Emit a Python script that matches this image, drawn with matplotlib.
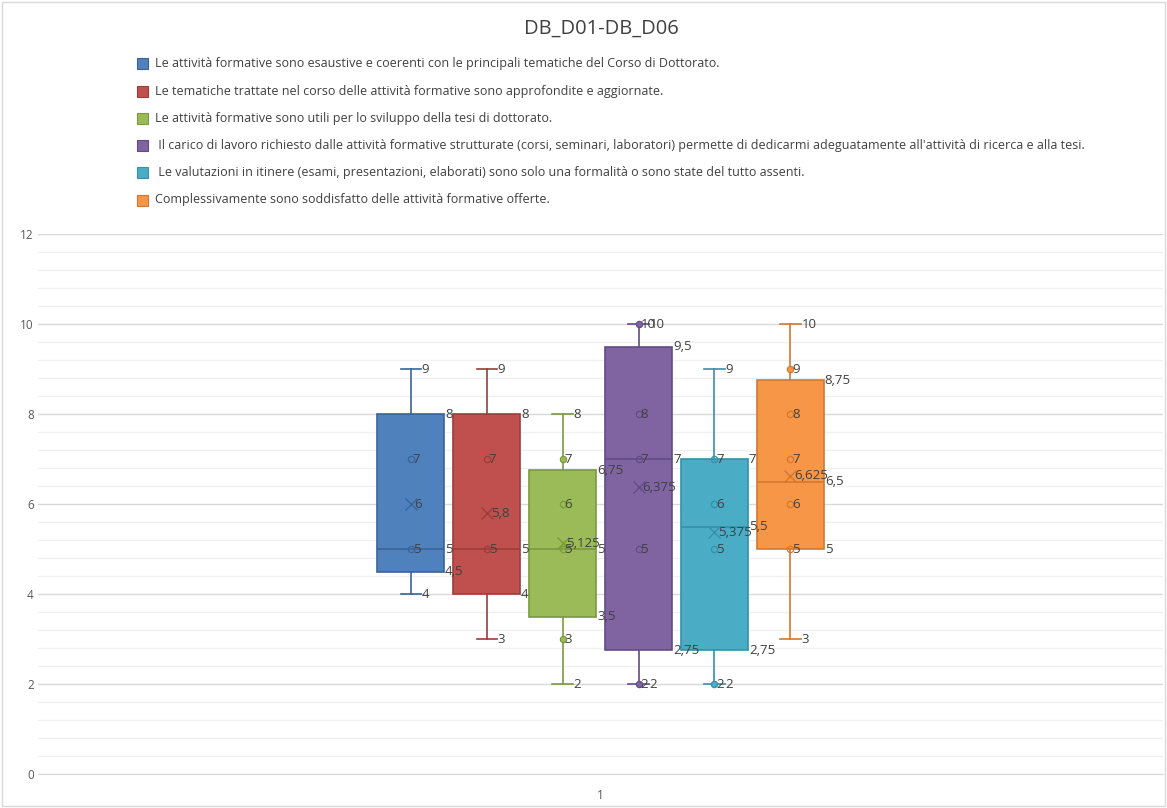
import numpy as np
import matplotlib
matplotlib.use("Agg")
import matplotlib.pyplot as plt
from matplotlib.patches import Rectangle

plt.rcParams['font.family'] = ['Open Sans', 'DejaVu Sans']

# series names (legend)
series = [
    "Le attività formative sono esaustive e coerenti con le principali tematiche del Corso di Dottorato.",
    "Le tematiche trattate nel corso delle attività formative sono approfondite e aggiornate.",
    "Le attività formative sono utili per lo sviluppo della tesi di dottorato.",
    " Il carico di lavoro richiesto dalle attività formative strutturate (corsi, seminari, laboratori) permette di dedicarmi adeguatamente all'attività di ricerca e alla tesi.",
    " Le valutazioni in itinere (esami, presentazioni, elaborati) sono solo una formalità o sono state del tutto assenti.",
    "Complessivamente sono soddisfatto delle attività formative offerte.",
]
# box statistics
whis_lo = [4, 3, 2, 2, 2, 3]
q1 = [4.5, 4, 3.5, 2.75, 2.75, 5]
median = [5, 5, 5, 7, 5.5, 6.5]
q3 = [8, 8, 6.75, 9.5, 7, 8.75]
whis_hi = [9, 9, 8, 10, 9, 10]
means = [6, 5.8, 5.125, 6.375, 5.375, 6.625]
# individual points shown
points = [
    [7, 5],
    [7, 5],
    [7, 6, 5, 3],
    [10, 8, 7, 5, 2],
    [7, 6, 5, 2],
    [9, 8, 7, 6, 5],
]
category = "1"

fill = ['#4F81BD', '#C0504D', '#9BBB59', '#8064A2', '#4BACC6', '#F79646']
edge = ['#3A6398', '#9E3C3A', '#7A9A3E', '#634C85', '#3690A8', '#D4782F']


def fmt(v):
    return f"{v:g}".replace('.', ',')


fig = plt.figure(figsize=(11.67, 8.08), dpi=100)
ax = fig.add_axes([0.0326, 0.042, 0.964, 0.6684])

n = len(series)
step, width, cap = 0.135, 0.119, 0.018
pos = [1 + (i - (n - 1) / 2) * step for i in range(n)]

stats = []
for i in range(n):
    stats.append(dict(whislo=whis_lo[i], q1=q1[i], med=median[i], q3=q3[i],
                      whishi=whis_hi[i], mean=means[i], fliers=[]))

for i in range(n):
    ax.bxp([stats[i]], positions=[pos[i]], widths=width, patch_artist=True,
           showmeans=False, showfliers=False, capwidths=2 * cap,
           boxprops=dict(facecolor=fill[i], edgecolor=edge[i], linewidth=1.2),
           medianprops=dict(color=edge[i], linewidth=1.2),
           whiskerprops=dict(color=edge[i], linewidth=1.2),
           capprops=dict(color=edge[i], linewidth=1.2), manage_ticks=False)
    x = pos[i]
    lab = dict(fontsize=9.5, color='#404040', va='center', ha='left',
               textcoords='offset pixels', zorder=6)
    # mean
    ax.plot(x, means[i], marker='x', ms=9, mew=1.0, color=edge[i], zorder=5)
    ax.annotate(fmt(means[i]), (x, means[i]), xytext=(4, 0), **lab)
    # points
    for p in points[i]:
        outside = p < q1[i] or p > q3[i]
        ax.plot(x, p, marker='o', ms=4.5, mew=0.9,
                mfc=fill[i] if outside else 'none', mec=edge[i], zorder=5)
        ax.annotate(fmt(p), (x, p), xytext=(2, 0), **lab)
    # whisker ends
    for v in (whis_lo[i], whis_hi[i]):
        ax.annotate(fmt(v), (x + cap, v), xytext=(1, 0), **lab)
    # box values
    for v in (q1[i], median[i], q3[i]):
        ax.annotate(fmt(v), (x + width / 2, v), xytext=(1, 0), **lab)

ax.set_xlim(0, 2)
ax.set_ylim(0, 12)
ax.set_yticks(np.arange(0, 13, 2))
ax.set_yticks(np.arange(0, 12.01, 0.4), minor=True)
ax.set_xticks([1])
ax.set_xticklabels([category])
ax.grid(which='major', axis='y', color='#D9D9D9', linewidth=1)
ax.grid(which='minor', axis='y', color='#F0F0F0', linewidth=1)
ax.set_axisbelow(True)
ax.tick_params(axis='both', which='both', length=0, labelsize=8.5, colors='#595959')
ax.tick_params(axis='y', pad=3)
ax.tick_params(axis='x', pad=11)
for s in ['top', 'right', 'left']:
    ax.spines[s].set_visible(False)
ax.spines['bottom'].set_color('#D9D9D9')

fig.text(0.515, 0.965, "DB_D01-DB_D06", ha='center', va='center',
         fontsize=14.5, color='#404040')

# legend
for i, name in enumerate(series):
    y = 1 - (64 + 27.2 * i) / 808
    fig.patches.append(Rectangle((137 / 1167, y - 5.5 / 808), 11 / 1167, 11 / 808,
                                 transform=fig.transFigure, facecolor=fill[i],
                                 edgecolor=edge[i], linewidth=0.8))
    fig.text(155 / 1167, y, name, ha='left', va='center', fontsize=9, color='#404040')

fig.patches.append(Rectangle((0.002, 0.002), 0.996, 0.996, transform=fig.transFigure,
                             fill=False, edgecolor='#D9D9D9', linewidth=1))

fig.savefig("out.png", dpi=100)
